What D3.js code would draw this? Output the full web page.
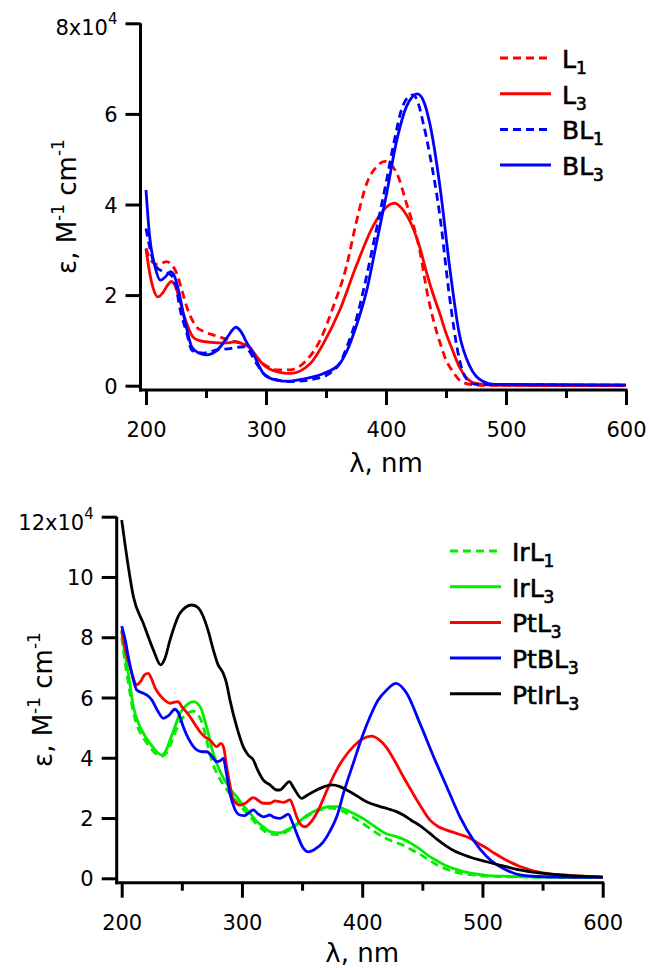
<!DOCTYPE html>
<html><head><meta charset="utf-8">
<script src="https://cdn.jsdelivr.net/npm/d3@7/dist/d3.min.js"></script>
<style>
body{margin:0;background:#fff;}
text{font-family:"DejaVu Sans",sans-serif;fill:#000;}
</style></head><body>
<svg id="chart" width="650" height="968"></svg>
<script>
// ---------- DATA (epsilon in units of 10^4 M^-1 cm^-1, wavelength in nm) ----------
const xMajorTicks = [200, 300, 400, 500, 600];
const xMinorTicks = [250, 350, 450, 550];
const topYTicks = [0, 2, 4, 6, 8];
const bottomYTicks = [0, 2, 4, 6, 8, 10, 12];
const xTitle = "λ, nm";

const topNames = ["L1", "L3", "BL1", "BL3"];
const bottomNames = ["IrL1", "IrL3", "PtL3", "PtBL3", "PtIrL3"];

const L1 = [[200,3.03],[204,2.77],[209,2.68],[213,2.70],[217,2.74],[221,2.68],[225.6,2.48],[230,2.1],[234,1.74],[238,1.48],[242,1.3],[248,1.2],[256,1.12],[263,1.06],[270,1.0],[277,0.95],[284,0.9],[288,0.8],[292,0.64],[297,0.5],[303,0.4],[310,0.35],[320,0.35],[334,0.57],[345,1.0],[356,1.74],[367,2.63],[375,3.58],[384,4.47],[392,4.83],[399,4.95],[409,4.69],[417,4.03],[428,3.0],[435,1.96],[440,1.4],[445,0.95],[450,0.57],[456,0.3],[461,0.13],[470,0.03],[480,0.01],[600,0.0]];
const L3 = [[200,3.03],[203,2.5],[206,2.15],[210,1.96],[214,2.05],[218,2.22],[221,2.3],[224,2.22],[228,1.9],[231,1.6],[235,1.3],[239,1.08],[244,1.0],[250,0.97],[257,0.95],[264,0.94],[270,0.95],[275,0.97],[281,0.92],[287,0.83],[292,0.65],[298,0.46],[303,0.37],[309,0.31],[315,0.28],[320,0.27],[337,0.49],[348,0.94],[361.5,1.67],[375,2.63],[389,3.51],[398,3.88],[407,4.03],[415,3.85],[423,3.45],[428,3.07],[434,2.48],[439,2.04],[445,1.58],[450,1.16],[456,0.75],[461,0.42],[468,0.15],[475,0.05],[490,0.01],[600,0.0]];
const BL1 = [[200,3.47],[203,3.07],[207.5,2.66],[214,2.52],[221,2.44],[225,2.2],[228,1.74],[234,1.16],[238,0.79],[242,0.74],[248,0.72],[259,0.79],[270,0.82],[281,0.86],[285,0.8],[289,0.64],[293,0.45],[298,0.27],[309,0.13],[320,0.09],[342,0.16],[353,0.27],[362,0.52],[368,0.9],[375,1.44],[382,2.2],[389,3.07],[400,4.47],[407,5.42],[413,6.1],[418,6.36],[422.6,6.42],[426,6.3],[431,5.8],[436.5,5.1],[445,3.73],[453,1.95],[461,0.6],[467,0.15],[475,0.03],[600,0.01]];
const BL3 = [[200,4.32],[203,3.3],[207.5,2.63],[212,2.33],[216,2.4],[220.5,2.52],[224,2.4],[228,2.0],[231,1.6],[234.5,1.2],[238,0.86],[244,0.72],[250.5,0.68],[256,0.72],[262,0.86],[268,1.08],[275,1.29],[279,1.2],[284,0.95],[289.4,0.71],[294,0.45],[297.7,0.27],[303,0.17],[310,0.12],[317,0.1],[335,0.17],[348,0.27],[361.5,0.49],[368,0.8],[375,1.3],[384,2.11],[392,3.14],[400,4.17],[409,5.42],[417,6.16],[422,6.38],[426,6.44],[431,6.3],[436.5,5.79],[445,4.39],[453,2.63],[461,1.16],[470,0.42],[481,0.09],[490,0.03],[600,0.02]];

const IrL1 = [[200,8.0],[203,7.1],[205.5,6.5],[209.7,5.5],[215.2,4.85],[219,4.6],[223.5,4.35],[228,4.15],[233.3,4.05],[237,4.15],[240.2,4.4],[244,4.8],[248.5,5.2],[254,5.45],[259.5,5.55],[263,5.45],[266.5,5.2],[269,4.85],[272,4.35],[275,3.9],[279,3.5],[283,3.2],[287.3,2.95],[291,2.75],[295.6,2.55],[301,2.3],[306.7,2.05],[312,1.8],[317.8,1.6],[323.3,1.47],[331.6,1.45],[337.2,1.55],[345.5,1.78],[351,1.97],[359.3,2.18],[366,2.28],[373.2,2.33],[379,2.3],[386,2.18],[392.6,2.02],[400,1.83],[406.5,1.65],[414,1.45],[420,1.32],[427,1.2],[434,1.1],[441,0.95],[448,0.8],[455,0.62],[462,0.45],[469,0.32],[476,0.22],[490,0.12],[503,0.07],[540,0.04],[600,0.02]];
const IrL3 = [[200,8.18],[203,7.4],[205.5,6.8],[209.7,5.7],[215.2,5.03],[219,4.75],[223.5,4.48],[228,4.25],[233.3,4.09],[237,4.25],[240.2,4.59],[244,5.0],[248.5,5.48],[254,5.75],[259.5,5.86],[263,5.8],[266.5,5.59],[269,5.25],[272,4.81],[275,4.3],[279,3.82],[283,3.45],[287.3,3.15],[291,2.92],[295.6,2.71],[301,2.42],[306.7,2.16],[312,1.9],[317.8,1.71],[323.3,1.55],[331.6,1.51],[337.2,1.6],[345.5,1.8],[351,2.0],[359.3,2.21],[366,2.32],[373.2,2.38],[379,2.38],[386,2.28],[392.6,2.16],[400,2.0],[406.5,1.83],[414,1.62],[420,1.48],[427,1.4],[434,1.3],[441,1.15],[448,0.97],[455,0.75],[462,0.58],[469,0.43],[476,0.32],[490,0.17],[503,0.1],[517,0.07],[540,0.05],[600,0.03]];
const PtL3 = [[200,8.24],[203,7.6],[207,7.02],[210,6.6],[212.5,6.42],[216,6.55],[219,6.75],[222,6.8],[225,6.6],[228,6.3],[231.8,6.08],[236,5.9],[240.2,5.81],[244,5.85],[247,5.86],[250,5.7],[256.8,5.36],[261,5.1],[265,4.87],[269,4.7],[273.4,4.59],[279,4.37],[282.6,4.48],[285,4.3],[287.3,3.7],[290,3.1],[292.8,2.6],[298.4,2.43],[303,2.5],[309.4,2.68],[313,2.6],[317.8,2.49],[323.3,2.49],[327.5,2.57],[331.6,2.54],[334.4,2.52],[340,2.6],[342.5,2.4],[345.5,2.04],[349,1.78],[352.4,1.71],[357,1.85],[364.9,2.38],[371,2.95],[378.8,3.6],[385,4.0],[392.6,4.37],[400,4.62],[407.9,4.72],[414,4.6],[420.4,4.33],[427,3.9],[434.2,3.37],[441,2.9],[448,2.43],[456.4,1.93],[463,1.72],[470.3,1.6],[480,1.47],[489.7,1.33],[496,1.17],[503.5,1.0],[510,0.83],[517.3,0.66],[524,0.52],[531.2,0.39],[538,0.3],[545,0.22],[558,0.14],[572.8,0.1],[600,0.03]];
const PtBL3 = [[200,8.37],[203,7.9],[205.5,7.35],[209,6.7],[212.5,6.25],[218,6.14],[222,6.05],[225,5.92],[230,5.55],[234.6,5.31],[239,5.4],[244.3,5.61],[247,5.5],[251.2,5.03],[256,4.6],[262.4,4.26],[267,4.2],[270.7,4.2],[275,4.05],[279,3.87],[282,3.9],[284.5,3.98],[287,3.5],[290,2.82],[294,2.3],[298.4,2.1],[302,2.08],[305,2.15],[309.4,2.27],[313,2.15],[317.8,2.04],[323.3,2.1],[327,2.02],[331.6,1.99],[335,2.05],[338.5,2.13],[342,1.85],[345.5,1.49],[351,1.0],[355.2,0.88],[360,0.95],[367.7,1.21],[373,1.55],[378.8,2.04],[385,2.9],[392.6,3.82],[400,4.7],[406.5,5.36],[413,5.9],[420.4,6.25],[428,6.47],[437,6.14],[448,5.14],[460.5,3.93],[470.3,3.04],[481.3,2.04],[492.4,1.27],[503.5,0.72],[510,0.5],[517,0.33],[524,0.2],[531,0.11],[545,0.06],[600,0.03]];
const PtIrL3 = [[200,11.89],[205.5,10.34],[209.7,9.35],[218,8.46],[226.3,7.58],[232.4,7.08],[236,7.3],[240.2,7.91],[248.5,8.8],[258.2,9.07],[263,9.0],[267.9,8.68],[272,8.2],[276.2,7.58],[280,7.1],[284.5,6.8],[287,6.5],[290,5.92],[295.6,5.03],[301,4.37],[305,4.1],[309.4,3.93],[313,3.6],[317.8,3.26],[323.3,3.1],[328.9,2.93],[331.6,2.93],[335,3.05],[339.4,3.21],[343,3.0],[349.7,2.65],[354,2.75],[359.4,2.87],[366,3.0],[374.6,3.1],[381,3.05],[387.1,2.93],[393,2.8],[400.9,2.6],[407,2.48],[414.8,2.38],[422,2.3],[428,2.22],[434.2,2.1],[441,1.92],[448,1.75],[456,1.5],[462,1.3],[470,1.07],[476,0.92],[490,0.7],[503.5,0.55],[517,0.41],[531,0.28],[545,0.19],[559,0.13],[575,0.08],[600,0.05]];

const topSeries = [L1, L3, BL1, BL3];
const bottomSeries = [IrL1, IrL3, PtL3, PtBL3, PtIrL3];

// ---------- STYLES ----------
const topStyles = [
  {color:"#ff0000", dash:"8,5"}, {color:"#ff0000", dash:null},
  {color:"#0000ff", dash:"8,5"}, {color:"#0000ff", dash:null}];
const bottomStyles = [
  {color:"#00ee00", dash:"8,5"}, {color:"#00ee00", dash:null},
  {color:"#ff0000", dash:null}, {color:"#0000ff", dash:null}, {color:"#000000", dash:null}];

const svg = d3.select("#chart");

function panel(cfg) {
  const x = d3.scaleLinear().domain([200, 600]).range(cfg.xr);
  const y = d3.scaleLinear().domain([0, cfg.yMax]).range(cfg.yr);
  const g = svg.append("g");

  // series
  const line = d3.line().x(d => x(d[0])).y(d => y(d[1])).curve(d3.curveMonotoneX);
  cfg.series.forEach((s, i) => {
    g.append("path").datum(s).attr("d", line)
      .attr("fill", "none").attr("stroke", cfg.styles[i].color)
      .attr("stroke-width", 2.8).attr("stroke-linejoin", "round")
      .attr("stroke-dasharray", cfg.styles[i].dash);
  });

  // x axis
  const xa = g.append("g").attr("transform", `translate(0,${cfg.axisY})`)
    .call(d3.axisBottom(x).tickValues(xMajorTicks).tickSize(15).tickPadding(17).tickSizeOuter(0).tickFormat(d3.format("d")));
  const xm = g.append("g").attr("transform", `translate(0,${cfg.axisY})`)
    .call(d3.axisBottom(x).tickValues(xMinorTicks).tickSize(8).tickSizeOuter(0).tickFormat(""));
  // y axis
  const ya = g.append("g").attr("transform", `translate(${cfg.axisX},0)`)
    .call(d3.axisLeft(y).tickValues(cfg.yTicks).tickSize(15).tickPadding(8).tickSizeOuter(0));
  [xa, xm, ya].forEach(a => {
    a.select(".domain").remove();
    a.selectAll(".tick line").attr("stroke", "#000").attr("stroke-width", 3);
    a.selectAll("text").style("font-size", "21px").attr("fill", "#111");
  });
  ya.selectAll(".tick text").attr("dy", "0.36em");
  // top label with exponent
  const topTick = cfg.yTicks[cfg.yTicks.length - 1];
  ya.selectAll(".tick").filter(d => d === topTick).select("text")
    .text(null).attr("dy", cfg.topDy)
    .call(t => { t.append("tspan").text(topTick + "x10"); t.append("tspan").attr("dy", -11).style("font-size", "15px").text("4"); });

  // axis lines
  g.append("line").attr("x1", cfg.axisX).attr("x2", cfg.axisX)
    .attr("y1", y(cfg.yMax)).attr("y2", cfg.axisY + 1.5)
    .attr("stroke", "#000").attr("stroke-width", 3);
  g.append("line").attr("x1", cfg.axisX - 1.5).attr("x2", x(600) + 1.5)
    .attr("y1", cfg.axisY).attr("y2", cfg.axisY)
    .attr("stroke", "#000").attr("stroke-width", 3);

  // axis titles
  g.append("text").attr("x", (cfg.xr[0] + cfg.xr[1]) / 2).attr("y", cfg.axisY + cfg.titleDy)
    .attr("text-anchor", "middle").style("font-size", "26px").text(xTitle);
  const yt = g.append("text")
    .attr("transform", `translate(${cfg.axisX - 65},${(y(0) + y(cfg.yMax)) / 2 + 2}) rotate(-90)`)
    .attr("text-anchor", "middle").style("font-size", "26px");
  yt.append("tspan").text("ε, M");
  yt.append("tspan").attr("dy", -12).style("font-size", "17px").text("-1");
  yt.append("tspan").attr("dy", 12).text(" cm");
  yt.append("tspan").attr("dy", -12).style("font-size", "17px").text("-1");

  // legend
  cfg.names.forEach((n, i) => {
    const ly = cfg.legY + i * 35.7;
    g.append("line").attr("x1", cfg.legX).attr("x2", cfg.legX + 51)
      .attr("y1", ly).attr("y2", ly)
      .attr("stroke", cfg.styles[i].color).attr("stroke-width", 3)
      .attr("stroke-dasharray", cfg.styles[i].dash);
    const t = g.append("text").attr("x", cfg.legX + 62).attr("y", ly + 10)
      .style("font-size", "25px").attr("stroke", "#000").attr("stroke-width", 0.6);
    t.append("tspan").text(n.slice(0, -1));
    t.append("tspan").attr("dy", 6).style("font-size", "17px").text(n.slice(-1));
  });
}

panel({xr:[146, 626], yr:[385.7, 23.3], yMax:8, yTicks:topYTicks, axisX:140.5, axisY:390, titleDy:82,
  series:topSeries, styles:topStyles, names:topNames, legX:500, legY:58, topDy:"0.55em"});
panel({xr:[121.7, 602.7], yr:[878.3, 516.7], yMax:12, yTicks:bottomYTicks, axisX:116.7, axisY:882.7, titleDy:79,
  series:bottomSeries, styles:bottomStyles, names:bottomNames, legX:450, legY:551, topDy:"0.62em"});
</script></body></html>
